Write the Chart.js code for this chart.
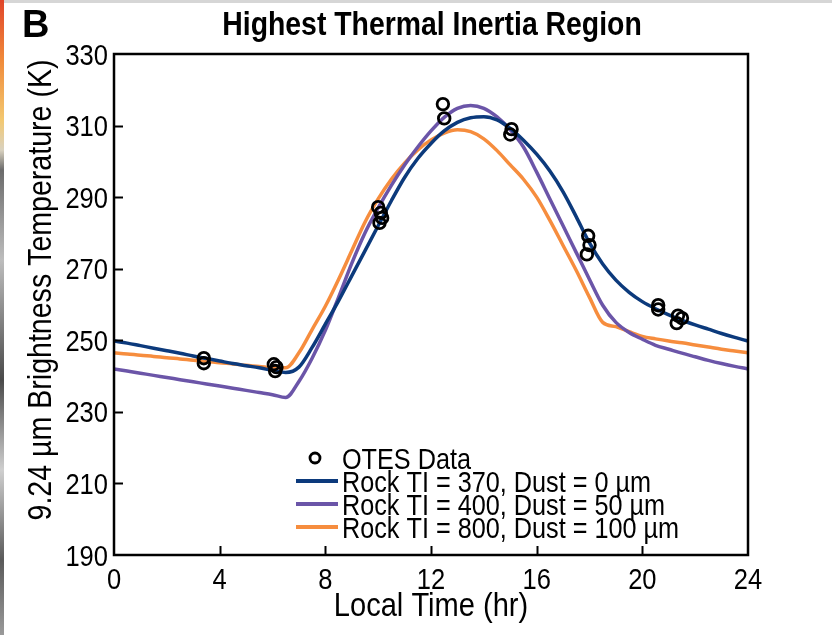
<!DOCTYPE html>
<html>
<head>
<meta charset="utf-8">
<script src="https://cdn.jsdelivr.net/npm/chart.js@4.4.1/dist/chart.umd.min.js"></script>
<style>
  html, body { margin: 0; padding: 0; background: #ffffff; }
  #wrap { position: relative; width: 832px; height: 635px; overflow: hidden; background: #fff; }
  #c { position: absolute; left: 0; top: 0; }
  #strip { position: absolute; left: 0; top: 0; width: 4px; height: 635px;
    background: linear-gradient(to bottom, #e0452a 0px, #f08a3a 60px, #f3c870 120px, #d9d2c0 150px, #6b6b6b 170px, #bdbdbd 260px, #4a4a4a 380px, #cfcfcf 470px, #5a5a5a 560px, #9a9a9a 635px); }
  #topline { position: absolute; left: 0; top: 0; width: 832px; height: 3px; background: #d6d6d6; }
</style>
</head>
<body>
<div id="wrap">
  <canvas id="c" width="832" height="635"></canvas>
  <div id="topline"></div>
  <div id="strip"></div>
</div>
<script>
// ---------------- DATA ----------------
const chartTitle = 'Highest Thermal Inertia Region';
const panelLetter = 'B';
const xAxisTitle = 'Local Time (hr)';
const yAxisTitle = '9.24 µm Brightness Temperature (K)';

const xTicks = [0, 4, 8, 12, 16, 20, 24];
const yTicks = [190, 210, 230, 250, 270, 290, 310, 330];

// model curve local times (hr)
const modelHours = [0, 0.5, 1, 1.5, 2, 2.5, 3, 3.5, 4, 4.5, 5, 5.5, 6, 6.5, 7, 7.5, 8, 8.5, 9, 9.5,
  10, 10.5, 11, 11.5, 12, 12.5, 13, 13.5, 14, 14.5, 15, 15.5, 16, 16.5, 17, 17.5, 18, 18.5, 19, 19.5,
  20, 20.5, 21, 21.5, 22, 22.5, 23, 23.5, 24];

// Rock TI = 370, Dust = 0 µm
const rock370 = [249.8, 249.2, 248.5, 247.8, 247.1, 246.4, 245.6, 244.9, 244.2, 243.5, 242.9, 242.3, 241.6, 241.0, 242.5, 248.0, 254.5, 261.0, 268.0, 275.0,
  282.0, 289.0, 295.5, 300.8, 305.0, 308.5, 310.9, 312.2, 312.5, 311.6, 309.2, 305.9, 302.0, 297.3, 291.5, 284.5, 277.2, 271.3, 266.8, 263.4,
  260.8, 258.8, 257.1, 255.6, 254.3, 253.1, 251.9, 250.8, 249.8];

// Rock TI = 400, Dust = 50 µm
const rock400 = [242.0, 241.4, 240.8, 240.2, 239.6, 239.0, 238.4, 237.8, 237.2, 236.6, 236.0, 235.4, 234.8, 234.0, 238.5, 245.0, 252.8, 262.0, 271.5, 280.0,
  287.0, 293.3, 299.0, 304.0, 308.5, 312.3, 314.8, 315.6, 314.8, 312.4, 308.8, 304.0, 297.0, 289.5, 282.0, 274.5, 267.0, 259.8, 255.0, 252.2,
  250.3, 248.6, 247.5, 246.4, 245.4, 244.4, 243.5, 242.7, 242.0];

// Rock TI = 800, Dust = 100 µm
const rock800 = [246.5, 246.2, 245.8, 245.5, 245.1, 244.8, 244.4, 244.1, 243.7, 243.4, 243.0, 242.7, 242.3, 242.3, 246.5, 253.0, 259.5, 267.0, 275.0, 283.0,
  289.5, 295.0, 299.5, 303.2, 306.0, 307.9, 308.8, 308.3, 306.3, 303.0, 299.0, 295.0, 290.0, 283.5, 276.5, 269.5, 262.0, 255.0, 253.8, 252.4,
  251.1, 250.4, 249.8, 249.3, 248.7, 248.1, 247.5, 247.0, 246.5];

// OTES observations
const otesHours = [3.4, 3.4, 6.05, 6.15, 6.1, 10.0, 10.1, 10.15, 10.05, 12.45, 12.5, 15.05, 15.0, 17.95, 18.0, 17.9, 20.6, 20.6, 21.35, 21.5, 21.3];
const otesTemps = [245.0, 243.6, 243.3, 242.5, 241.4, 287.2, 285.6, 284.2, 282.8, 316.0, 312.0, 309.0, 307.5, 279.2, 276.6, 274.0, 259.8, 258.6, 256.9, 256.2, 254.8];

const seriesLabels = ['OTES Data', 'Rock TI = 370, Dust = 0 µm', 'Rock TI = 400, Dust = 50 µm', 'Rock TI = 800, Dust = 100 µm'];
const seriesColors = ['#000000', '#0c3a7c', '#6b55a8', '#f68d3e'];

// ---------------- CHART ----------------
const FONT = '"Liberation Sans", Arial, Helvetica, sans-serif';
const toXY = (xs, ys) => xs.map((x, i) => ({ x: x, y: ys[i] }));

// draw horizontally condensed text (Helvetica Condensed look)
function condText(ctx, text, x, y, font, align, baseline, sx) {
  ctx.save();
  ctx.font = font;
  ctx.textAlign = align;
  ctx.textBaseline = baseline;
  ctx.translate(x, y);
  ctx.scale(sx, 1);
  ctx.fillText(text, 0, 0);
  ctx.restore();
}

const framePlugin = {
  id: 'framePlugin',
  afterDraw(chart) {
    const ctx = chart.ctx;
    const a = chart.chartArea;
    const xs = chart.scales.x, ys = chart.scales.y;
    ctx.save();
    // frame
    ctx.strokeStyle = '#000';
    ctx.lineWidth = 2.5;
    ctx.strokeRect(a.left, a.top, a.right - a.left, a.bottom - a.top);
    // inward ticks
    ctx.lineWidth = 2;
    xTicks.slice(1, -1).forEach(v => {
      const px = Math.round(xs.getPixelForValue(v)) + 0.5;
      ctx.beginPath(); ctx.moveTo(px, a.bottom); ctx.lineTo(px, a.bottom - 9); ctx.stroke();
    });
    yTicks.slice(1, -1).forEach(v => {
      const py = Math.round(ys.getPixelForValue(v)) + 0.5;
      ctx.beginPath(); ctx.moveTo(a.left, py); ctx.lineTo(a.left + 9, py); ctx.stroke();
    });
    ctx.fillStyle = '#000';
    // tick labels
    xTicks.forEach(v => {
      condText(ctx, String(v), xs.getPixelForValue(v), a.bottom + 34, '29px ' + FONT, 'center', 'alphabetic', 0.88);
    });
    yTicks.forEach(v => {
      condText(ctx, String(v), a.left - 6, ys.getPixelForValue(v) + 10.5, '29px ' + FONT, 'right', 'alphabetic', 0.88);
    });
    // titles
    condText(ctx, chartTitle, (a.left + a.right) / 2 + 1, 35, 'bold 33px ' + FONT, 'center', 'alphabetic', 0.86);
    condText(ctx, panelLetter, 22, 37, 'bold 38px ' + FONT, 'left', 'alphabetic', 1.0);
    condText(ctx, xAxisTitle, (a.left + a.right) / 2, 616, '34px ' + FONT, 'center', 'alphabetic', 0.855);
    ctx.save();
    ctx.translate(51, 290);
    ctx.rotate(-Math.PI / 2);
    condText(ctx, yAxisTitle, 0, 0, '34px ' + FONT, 'center', 'alphabetic', 0.84);
    ctx.restore();
    // legend
    const lx = 296, lw = 42, tx = 342, rowY = [458, 481, 504, 527];
    seriesLabels.forEach((lab, i) => {
      const y = rowY[i];
      if (i === 0) {
        ctx.beginPath();
        ctx.lineWidth = 2.8;
        ctx.strokeStyle = '#000';
        ctx.arc(lx + lw / 2 - 2, y, 5, 0, Math.PI * 2);
        ctx.stroke();
      } else {
        ctx.beginPath();
        ctx.lineWidth = 4;
        ctx.strokeStyle = seriesColors[i];
        ctx.moveTo(lx, y); ctx.lineTo(lx + lw, y);
        ctx.stroke();
      }
      ctx.fillStyle = '#000';
      condText(ctx, lab, tx, y + 10.5, '29px ' + FONT, 'left', 'alphabetic', 0.87);
    });
    ctx.restore();
  }
};

new Chart(document.getElementById('c'), {
  type: 'scatter',
  data: {
    datasets: [
      { label: seriesLabels[0], data: toXY(otesHours, otesTemps), showLine: false,
        pointStyle: 'circle', pointRadius: 5.8, pointBorderWidth: 2.8,
        borderColor: seriesColors[0], backgroundColor: 'rgba(0,0,0,0)', order: 1 },
      { label: seriesLabels[1], data: toXY(modelHours, rock370), showLine: true, pointRadius: 0,
        borderColor: seriesColors[1], borderWidth: 3.5, cubicInterpolationMode: 'monotone', order: 2 },
      { label: seriesLabels[2], data: toXY(modelHours, rock400), showLine: true, pointRadius: 0,
        borderColor: seriesColors[2], borderWidth: 3.5, cubicInterpolationMode: 'monotone', order: 3 },
      { label: seriesLabels[3], data: toXY(modelHours, rock800), showLine: true, pointRadius: 0,
        borderColor: seriesColors[3], borderWidth: 3.5, cubicInterpolationMode: 'monotone', order: 4 }
    ]
  },
  options: {
    responsive: false,
    animation: false,
    devicePixelRatio: 1,
    layout: { padding: { top: 54, right: 84, bottom: 0, left: 0 } },
    plugins: { legend: { display: false }, tooltip: { enabled: false }, title: { display: false } },
    scales: {
      x: {
        type: 'linear', min: 0, max: 24,
        afterBuildTicks: s => { s.ticks = xTicks.map(v => ({ value: v })); },
        afterFit: s => { s.height = 80; },
        grid: { display: false, drawTicks: false },
        border: { display: false },
        ticks: { display: false }
      },
      y: {
        type: 'linear', min: 190, max: 330,
        afterBuildTicks: s => { s.ticks = yTicks.map(v => ({ value: v })); },
        afterFit: s => { s.width = 114; },
        grid: { display: false, drawTicks: false },
        border: { display: false },
        ticks: { display: false }
      }
    }
  },
  plugins: [framePlugin]
});
</script>
</body>
</html>
